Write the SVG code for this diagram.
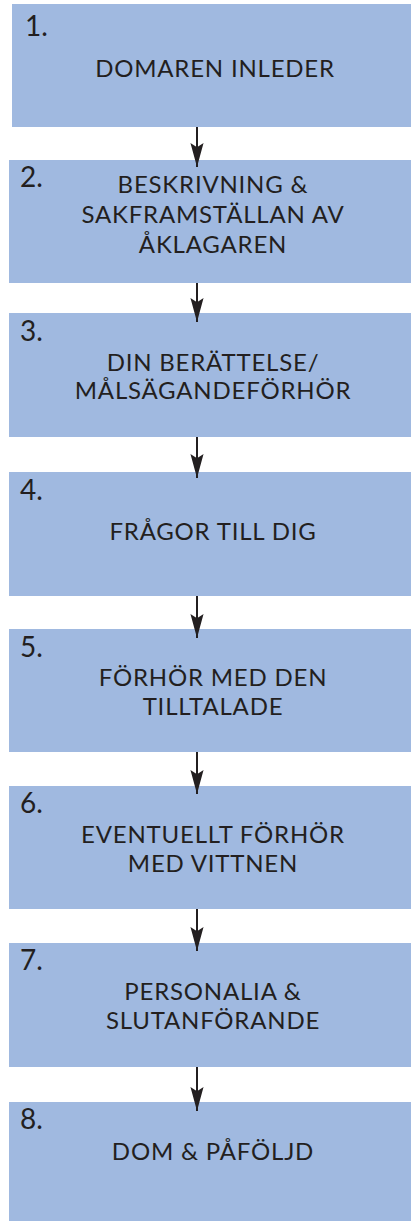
<svg xmlns="http://www.w3.org/2000/svg" width="411" height="1221" viewBox="0 0 411 1221">
<defs>
<style>
.box{fill:#a0b9e0;}
.num{font-family:Lato,"Open Sans",sans-serif;font-size:28px;fill:#231f20;}
.lbl{font-family:Lato,"Open Sans",sans-serif;font-size:24px;letter-spacing:0.8px;fill:#231f20;text-anchor:middle;}
.conn{stroke:#231f20;stroke-width:2;fill:none;}
</style>
<marker id="ah" markerUnits="userSpaceOnUse" markerWidth="24" markerHeight="14" refX="22" refY="6" orient="auto" viewBox="0 0 22 12">
<path d="M0,0 L22,6 L0,12 L4,6 Z" fill="#231f20"/>
</marker>
</defs>
<rect width="411" height="1221" fill="#ffffff"/>
<g id="node1"><rect class="box" x="12" y="4" width="399" height="123"/><text class="num" x="25" y="36">1.</text><text class="lbl" x="215" y="77">DOMAREN INLEDER</text></g>
<g id="node2"><rect class="box" x="9" y="160" width="402" height="123"/><text class="num" x="20" y="187">2.</text><text class="lbl" x="213" y="193">BESKRIVNING &amp;</text><text class="lbl" x="213" y="223">SAKFRAMSTÄLLAN AV</text><text class="lbl" x="213" y="253">ÅKLAGAREN</text></g>
<g id="node3"><rect class="box" x="9" y="313" width="402" height="124"/><text class="num" x="20" y="341">3.</text><text class="lbl" x="213" y="371">DIN BERÄTTELSE/</text><text class="lbl" x="213" y="399">MÅLSÄGANDEFÖRHÖR</text></g>
<g id="node4"><rect class="box" x="9" y="472" width="402" height="124"/><text class="num" x="20" y="500">4.</text><text class="lbl" x="213" y="540">FRÅGOR TILL DIG</text></g>
<g id="node5"><rect class="box" x="9" y="629" width="402" height="123"/><text class="num" x="20" y="657">5.</text><text class="lbl" x="213" y="686">FÖRHÖR MED DEN</text><text class="lbl" x="213" y="715">TILLTALADE</text></g>
<g id="node6"><rect class="box" x="9" y="786" width="402" height="123"/><text class="num" x="20" y="813">6.</text><text class="lbl" x="213" y="843">EVENTUELLT FÖRHÖR</text><text class="lbl" x="213" y="872">MED VITTNEN</text></g>
<g id="node7"><rect class="box" x="9" y="943" width="402" height="124"/><text class="num" x="20" y="970">7.</text><text class="lbl" x="213" y="1000">PERSONALIA &amp;</text><text class="lbl" x="213" y="1029">SLUTANFÖRANDE</text></g>
<g id="node8"><rect class="box" x="9" y="1102" width="402" height="119"/><text class="num" x="20" y="1129">8.</text><text class="lbl" x="213" y="1160">DOM &amp; PÅFÖLJD</text></g>
<g id="connectors">
<path class="conn" d="M197,127 V167" marker-end="url(#ah)"/>
<path class="conn" d="M197,283 V322" marker-end="url(#ah)"/>
<path class="conn" d="M197,437 V478" marker-end="url(#ah)"/>
<path class="conn" d="M197,596 V638" marker-end="url(#ah)"/>
<path class="conn" d="M197,752 V794" marker-end="url(#ah)"/>
<path class="conn" d="M197,909 V951" marker-end="url(#ah)"/>
<path class="conn" d="M197,1067 V1111" marker-end="url(#ah)"/>
</g>
</svg>
